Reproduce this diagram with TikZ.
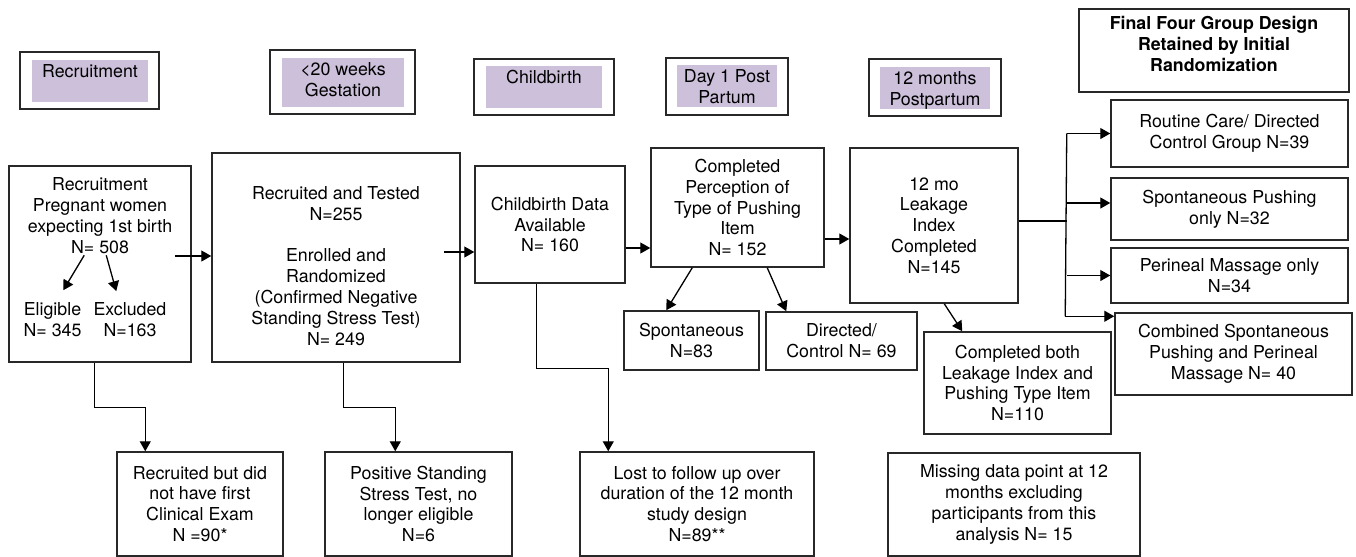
\documentclass[tikz,border=0pt]{standalone}
\usepackage{fontspec}
\setmainfont{TeX Gyre Heros}
\usetikzlibrary{arrows.meta,calc}
\definecolor{lav}{RGB}{204,192,218}
\definecolor{edge}{RGB}{40,40,40}
\begin{document}
\begin{tikzpicture}[x=0.5pt,y=-0.5pt,
  box/.style={draw=edge,line width=0.75pt,inner sep=0pt,align=center,font=\fontsize{8.9}{10.4}\selectfont},
  shade/.style={fill=lav,inner sep=0pt},
  txt/.style={inner sep=0pt,align=center,font=\fontsize{8.9}{10.4}\selectfont},
  htxt/.style={txt,anchor=north,inner sep=2.3pt},
  link/.style={line width=0.65pt},
  arr/.style={link,-{Triangle[length=5pt,width=5.5pt]}}]
\useasboundingbox (0,0) rectangle (1356,557);

% header phase boxes
\node[box,minimum width=69.5pt,minimum height=28.5pt] (hrec) at (89.5,80.5) {};
\node[shade,minimum width=58pt,minimum height=21pt] (hrecin) at (90,81) {};
\node[htxt] (hrect) at (hrecin.north) {Recruitment};

\node[box,minimum width=72.5pt,minimum height=32pt] (hges) at (342.5,82) {};
\node[shade,minimum width=61pt,minimum height=24.5pt] (hgesin) at (343,82.5) {};
\node[htxt] (hgest) at (hgesin.north) {<20 weeks\\Gestation};

\node[box,minimum width=70pt,minimum height=28pt] (hcb) at (544,87) {};
\node[shade,minimum width=58pt,minimum height=21pt] (hcbin) at (544,87) {};
\node[htxt] (hcbt) at (hcbin.north) {Childbirth};

\node[box,minimum width=61pt,minimum height=28.5pt] (hd1) at (727,86.5) {};
\node[shade,minimum width=50pt,minimum height=21pt] (hd1in) at (727,86) {};
\node[htxt] (hd1t) at (hd1in.north) {Day 1 Post\\Partum};

\node[box,minimum width=66pt,minimum height=28.5pt] (h12) at (935,87.5) {};
\node[shade,minimum width=55pt,minimum height=21pt] (h12in) at (935,88) {};
\node[htxt] (h12t) at (h12in.north) {12 months\\Postpartum};

\node[box,minimum width=135pt,minimum height=41.5pt] (final) at (1214,50.5) {};
\node[txt,font=\fontsize{8.9}{10.6}\selectfont\bfseries] (finalt) at (1214,44) {Final Four Group Design\\Retained by Initial\\Randomization};

% main row
\node[box,minimum width=91pt,minimum height=98pt] (rec) at (100,264) {};
\node[txt] (rectext) at (100,215.5) {Recruitment\\Pregnant women\\expecting 1st birth\\N= 508};
\node[txt] (elig) at (52.5,319.5) {Eligible\\N= 345};
\node[txt] (excl) at (130,319.5) {Excluded\\N=163};

\node[box,minimum width=124pt,minimum height=104.5pt] (rt) at (336,257.5) {};
\node[txt] (rttext) at (336,266) {Recruited and Tested\\N=255\\[10.4pt]Enrolled and\\Randomized\\(Confirmed Negative\\Standing Stress Test)\\N= 249};

\node[box,minimum width=75pt,minimum height=58.5pt] (cb) at (550,224.5) {Childbirth Data\\Available\\N= 160};
\node[box,minimum width=86.5pt,minimum height=59.5pt] (cp) at (737.5,207.5) {Completed\\Perception of\\Type of Pushing\\Item\\N= 152};
\node[box,minimum width=67.5pt,minimum height=29.5pt] (spont) at (691.5,340.5) {Spontaneous\\N=83};
\node[box,minimum width=75.5pt,minimum height=29pt] (dir) at (841.5,341) {Directed/\\Control N= 69};
\node[box,minimum width=84pt,minimum height=77.5pt] (leak) at (934,225.5) {12 mo\\Leakage\\Index\\Completed\\N=145};
\node[box,minimum width=93.5pt,minimum height=51pt] (both) at (1017.5,383) {Completed both\\Leakage Index and\\Pushing Type Item\\N=110};

\node[box,minimum width=118.5pt,minimum height=33.5pt] (routine) at (1229.5,133.5) {Routine Care/ Directed\\Control Group N=39};
\node[box,minimum width=118.5pt,minimum height=31pt] (sppush) at (1229.5,209) {Spontaneous Pushing\\only N=32};
\node[box,minimum width=118.5pt,minimum height=27.5pt] (perineal) at (1229.5,275.5) {Perineal Massage only\\N=34};
\node[box,minimum width=118.5pt,minimum height=41pt] (combined) at (1233.5,354) {Combined Spontaneous\\Pushing and Perineal\\Massage N= 40};

% bottom row
\node[box,minimum width=83pt,minimum height=52pt] (rbd) at (200,504) {Recruited but did\\not have first\\Clinical Exam\\N =90*};
\node[box,minimum width=93.5pt,minimum height=52pt] (pst) at (418.5,504) {Positive Standing\\Stress Test, no\\longer eligible\\N=6};
\node[box,minimum width=117pt,minimum height=52pt] (ltf) at (697,504) {Lost to follow up over\\duration of the 12 month\\study design\\N=89**};
\node[box,minimum width=126pt,minimum height=51.5pt] (missing) at (1014,504.5) {Missing data point at 12\\months excluding\\participants from this\\analysis N= 15};

% connectors
\coordinate (e1) at ($(rec.north west)+(76,90)$);
\coordinate (e1t) at ($(rec.north west)+(55,125)$);
\coordinate (e2) at ($(rec.north west)+(98,90)$);
\coordinate (e2t) at ($(rec.north west)+(108,126)$);
\draw[arr] (e1) -- (e1t);
\draw[arr] (e2) -- (e2t);

\coordinate (a1) at ($(rec.east)+(-17,-8)$);
\draw[arr] (a1) -- (a1 -| rt.west);
\coordinate (a2) at ($(rt.east)+(-17,-5.5)$);
\draw[arr] (a2) -- (a2 -| cb.west);
\coordinate (a3) at ($(cb.east)+(0,23.5)$);
\draw[arr] (a3) -- (a3 -| cp.west);
\coordinate (a4) at ($(cp.east)+(0,31.5)$);
\draw[arr] (a4) -- (a4 -| leak.west);

\draw[arr] ($(cp.south west)+(42,0)$) -- ($(spont.north west)+(43,0)$);
\draw[arr] ($(cp.south west)+(117,0)$) -- ($(dir.north west)+(21,0)$);
\draw[arr] ($(leak.south west)+(95,0)$) -- ($(both.north west)+(39,0)$);

\coordinate (bj) at ($(leak.east)+(48,-4.5)$);
\draw[link] (leak.east |- bj) -- (bj);
\coordinate (bt) at (bj |- routine.west);
\coordinate (bb) at ($(combined.north west)+(-49,4)$);
\draw[link] (bt) -- (bb);
\draw[arr] (bt) -- (routine.west);
\draw[arr] ($(sppush.west)+(-44,-6)$) -- ($(sppush.west)+(0,-6)$);
\draw[arr] (bj |- perineal.west) -- (perineal.west);
\draw[arr] (bb) -- (bb -| combined.west);

\draw[arr] ($(rec.south west)+(86,0)$) -- ++(0,45) -| ($(rbd.north west)+(29,0)$);
\draw[arr] ($(rt.south west)+(132,0)$) -- ++(0,45) -| ($(pst.north west)+(71,0)$);
\draw[arr] ($(cb.south west)+(62,0)$) -- ++(0,85) -| ($(ltf.north west)+(29,0)$);
\end{tikzpicture}
\end{document}
